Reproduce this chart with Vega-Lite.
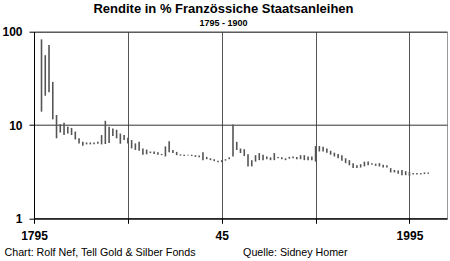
{
  "$schema": "https://vega.github.io/schema/vega-lite/v6.json",
  "autosize": {"type": "none"},
  "width": 413,
  "height": 186.6,
  "padding": {"left": 34, "top": 31.7, "right": 3, "bottom": 42.7},
  "background": "white",
  "title": {
    "text": "Rendite in % Französsiche Staatsanleihen",
    "subtitle": "1795 - 1900\u00a0\u00a0\u00a0\u00a0\u00a0\u00a0",
    "font": "Liberation Sans",
    "fontSize": 13,
    "fontWeight": "bold",
    "color": "black",
    "subtitleFont": "Liberation Sans",
    "subtitleFontSize": 9,
    "subtitleFontWeight": "bold",
    "subtitleColor": "black",
    "subtitlePadding": 3,
    "anchor": "middle",
    "frame": "group",
    "dx": -17,
    "offset": -2
  },
  "config": {"view": {"stroke": "#999999", "strokeWidth": 1}},
  "data": {
    "values": [
      {"year": 1797, "low": 13.9, "high": 82.8},
      {"year": 1798, "low": 20.6, "high": 56},
      {"year": 1799, "low": 22.4, "high": 72},
      {"year": 1800, "low": 11.5, "high": 29},
      {"year": 1801, "low": 7.2, "high": 12.8},
      {"year": 1802, "low": 8.3, "high": 10.2},
      {"year": 1803, "low": 7.8, "high": 10.6},
      {"year": 1804, "low": 8.1, "high": 9.6},
      {"year": 1805, "low": 7.8, "high": 9.3},
      {"year": 1806, "low": 7.0, "high": 8.5},
      {"year": 1807, "low": 6.35, "high": 7.2},
      {"year": 1808, "low": 6.0, "high": 6.6},
      {"year": 1809, "low": 6.2, "high": 6.5},
      {"year": 1810, "low": 6.2, "high": 6.5},
      {"year": 1811, "low": 6.2, "high": 6.5},
      {"year": 1812, "low": 6.3, "high": 6.6},
      {"year": 1813, "low": 6.2, "high": 7.8},
      {"year": 1814, "low": 6.25, "high": 11.1},
      {"year": 1815, "low": 6.4, "high": 9.6},
      {"year": 1816, "low": 7.6, "high": 9.2},
      {"year": 1817, "low": 7.2, "high": 8.9},
      {"year": 1818, "low": 6.3, "high": 8.1},
      {"year": 1819, "low": 6.9, "high": 7.8},
      {"year": 1820, "low": 6.35, "high": 7.3},
      {"year": 1821, "low": 5.6, "high": 6.9},
      {"year": 1822, "low": 5.4, "high": 6.35},
      {"year": 1823, "low": 5.3, "high": 6.6},
      {"year": 1824, "low": 4.8, "high": 5.6},
      {"year": 1825, "low": 4.85, "high": 5.45},
      {"year": 1826, "low": 5.0, "high": 5.2},
      {"year": 1827, "low": 4.9, "high": 5.2},
      {"year": 1828, "low": 4.8, "high": 5.1},
      {"year": 1829, "low": 4.75, "high": 4.9},
      {"year": 1830, "low": 4.6, "high": 5.9},
      {"year": 1831, "low": 5.1, "high": 6.7},
      {"year": 1832, "low": 5.0, "high": 5.4},
      {"year": 1833, "low": 4.75, "high": 5.15},
      {"year": 1834, "low": 4.7, "high": 4.85},
      {"year": 1835, "low": 4.65, "high": 4.8},
      {"year": 1836, "low": 4.7, "high": 4.8},
      {"year": 1837, "low": 4.65, "high": 4.8},
      {"year": 1838, "low": 4.55, "high": 4.75},
      {"year": 1839, "low": 4.5, "high": 4.7},
      {"year": 1840, "low": 4.2, "high": 5.1},
      {"year": 1841, "low": 4.3, "high": 4.55},
      {"year": 1842, "low": 4.2, "high": 4.4},
      {"year": 1843, "low": 4.1, "high": 4.3},
      {"year": 1844, "low": 4.0, "high": 4.15},
      {"year": 1845, "low": 4.0, "high": 4.2},
      {"year": 1846, "low": 4.15, "high": 4.3},
      {"year": 1847, "low": 4.3, "high": 4.5},
      {"year": 1848, "low": 4.6, "high": 10.1},
      {"year": 1849, "low": 5.4, "high": 6.6},
      {"year": 1850, "low": 5.0, "high": 5.6},
      {"year": 1851, "low": 4.65, "high": 5.5},
      {"year": 1852, "low": 3.6, "high": 4.85},
      {"year": 1853, "low": 3.6, "high": 4.2},
      {"year": 1854, "low": 4.05, "high": 4.75},
      {"year": 1855, "low": 4.2, "high": 5.0},
      {"year": 1856, "low": 4.2, "high": 4.8},
      {"year": 1857, "low": 4.3, "high": 4.6},
      {"year": 1858, "low": 4.2, "high": 4.5},
      {"year": 1859, "low": 4.2, "high": 5.0},
      {"year": 1860, "low": 4.4, "high": 4.55},
      {"year": 1861, "low": 4.3, "high": 4.5},
      {"year": 1862, "low": 4.2, "high": 4.4},
      {"year": 1863, "low": 4.35, "high": 4.55},
      {"year": 1864, "low": 4.4, "high": 4.6},
      {"year": 1865, "low": 4.3, "high": 4.55},
      {"year": 1866, "low": 4.3, "high": 4.75},
      {"year": 1867, "low": 4.2, "high": 4.75},
      {"year": 1868, "low": 4.2, "high": 4.6},
      {"year": 1869, "low": 4.2, "high": 4.6},
      {"year": 1870, "low": 4.05, "high": 5.95},
      {"year": 1871, "low": 5.2, "high": 5.95},
      {"year": 1872, "low": 5.2, "high": 5.85},
      {"year": 1873, "low": 5.05, "high": 5.6},
      {"year": 1874, "low": 4.8, "high": 5.3},
      {"year": 1875, "low": 4.6, "high": 5.05},
      {"year": 1876, "low": 4.4, "high": 4.9},
      {"year": 1877, "low": 4.15, "high": 4.75},
      {"year": 1878, "low": 3.9, "high": 4.4},
      {"year": 1879, "low": 3.7, "high": 4.2},
      {"year": 1880, "low": 3.45, "high": 3.9},
      {"year": 1881, "low": 3.45, "high": 3.7},
      {"year": 1882, "low": 3.5, "high": 3.8},
      {"year": 1883, "low": 3.6, "high": 4.05},
      {"year": 1884, "low": 3.7, "high": 4.05},
      {"year": 1885, "low": 3.75, "high": 3.9},
      {"year": 1886, "low": 3.65, "high": 3.85},
      {"year": 1887, "low": 3.6, "high": 3.9},
      {"year": 1888, "low": 3.5, "high": 3.75},
      {"year": 1889, "low": 3.5, "high": 3.7},
      {"year": 1890, "low": 3.1, "high": 3.45},
      {"year": 1891, "low": 3.1, "high": 3.3},
      {"year": 1892, "low": 3.0, "high": 3.25},
      {"year": 1893, "low": 2.9, "high": 3.3},
      {"year": 1894, "low": 2.9, "high": 3.2},
      {"year": 1895, "low": 2.85, "high": 3.15},
      {"year": 1896, "low": 2.95, "high": 3.05},
      {"year": 1897, "low": 2.95, "high": 3.05},
      {"year": 1898, "low": 2.95, "high": 3.05},
      {"year": 1899, "low": 2.98, "high": 3.1},
      {"year": 1900, "low": 3.0, "high": 3.1}
    ]
  },
  "mark": {"type": "rule", "color": "#555555", "strokeWidth": 1.6},
  "encoding": {
    "x": {
      "field": "year",
      "type": "quantitative",
      "scale": {"domain": [1795, 1905], "nice": false, "zero": false},
      "axis": {
        "values": [1795, 1820, 1845, 1870, 1895],
        "labelExpr": "datum.value == 1795 ? '1795' : datum.value == 1845 ? '45' : datum.value == 1895 ? '1995' : ''",
        "grid": true,
        "gridColor": "#555555",
        "gridOpacity": 1,
        "domainColor": "black",
        "tickColor": "black",
        "tickSize": 5,
        "labelFont": "Liberation Sans",
        "labelFontSize": 12,
        "labelFontWeight": "bold",
        "labelColor": "black",
        "labelPadding": 7,
        "labelFlush": false,
        "labelOverlap": false,
        "title": "Chart: Rolf Nef, Tell Gold & Silber Fonds\u00a0\u00a0\u00a0\u00a0\u00a0\u00a0\u00a0\u00a0\u00a0\u00a0\u00a0\u00a0\u00a0\u00a0\u00a0\u00a0Quelle: Sidney Homer",
        "titleFont": "Liberation Sans",
        "titleFontSize": 10.7,
        "titleFontWeight": "normal",
        "titleColor": "black",
        "titleX": -30,
        "titleY": 36.7,
        "titleAlign": "left",
        "titleBaseline": "alphabetic"
      }
    },
    "y": {
      "field": "low",
      "type": "quantitative",
      "scale": {"type": "log", "domain": [1, 100], "nice": false},
      "axis": {
        "values": [1, 10, 100],
        "format": "d",
        "grid": true,
        "gridColor": "#333333",
        "gridOpacity": 1,
        "domainColor": "black",
        "tickColor": "black",
        "tickSize": 5,
        "labelFont": "Liberation Sans",
        "labelFontSize": 12,
        "labelFontWeight": "bold",
        "labelColor": "black",
        "labelPadding": 7,
        "labelFlush": false,
        "title": null
      }
    },
    "y2": {"field": "high"}
  }
}
